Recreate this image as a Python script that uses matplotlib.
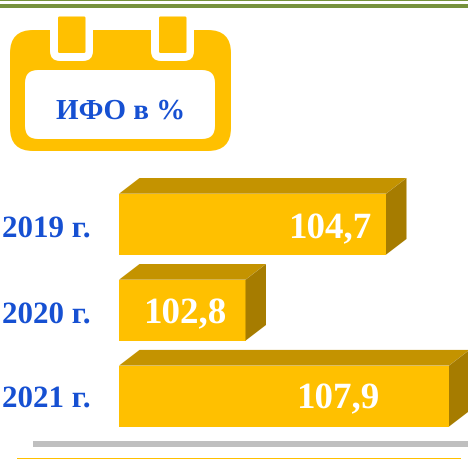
import matplotlib
matplotlib.use("Agg")
import matplotlib.pyplot as plt
from matplotlib.patches import FancyBboxPatch, Polygon, Rectangle

plt.rcParams["text.hinting"] = "no_hinting"
plt.rcParams["text.hinting_factor"] = 1

# Data
years = ["2019 г.", "2020 г.", "2021 г."]
values = ["104,7", "102,8", "107,9"]
# The reference's bars are not proportional to the values: drawn lengths, in pixels
bar_lengths = [267, 126.5, 330]
title = "ИФО в %"

# Layout (pixel coordinates of the 468x459 canvas)
W, H = 468, 459
BAR_LEFT = 119
BAR_H = 61
bar_centers = [224.2, 310.2, 396.1]
value_x = [330, 185, 338]
baselines = [238, 323.5, 408]
DX, DY = 20.5, 15.7

GOLD = "#FFC000"
TOP = "#C49300"
SIDE = "#A67C00"
BLUE = "#1650D2"
GREEN = "#76923C"
SERIF = "Liberation Serif"

fig = plt.figure(figsize=(W / 100, H / 100), dpi=100, facecolor="white")
ax = fig.add_axes([0, 0, 1, 1])
ax.set_xlim(0, W)
ax.set_ylim(H, 0)
ax.axis("off")


def rrect(x0, y0, x1, y1, r, color, z):
    ax.add_patch(FancyBboxPatch((x0 + r, y0 + r), x1 - x0 - 2 * r, y1 - y0 - 2 * r,
                                boxstyle=f"round,pad={r},rounding_size={r}",
                                fc=color, ec="none", zorder=z))


# Rules at top and bottom
ax.add_patch(Rectangle((0, 0), W, 1.1, fc=GREEN, ec="none"))
ax.add_patch(Rectangle((0, 4), W, 4, fc=GREEN, ec="none"))
ax.add_patch(Rectangle((33, 441), W - 33, 6.2, fc="#BFBFBF", ec="none"))
ax.add_patch(Rectangle((17, 457.6), 444, 1.4, fc=GOLD, ec="none"))

# Calendar icon
rrect(10, 30, 231, 151, 23, GOLD, 2)
for nx in (50, 151):
    rrect(nx, 12, nx + 43, 61, 10, "white", 3)
    rrect(nx + 8, 16.5, nx + 35.5, 53, 1.5, GOLD, 4)
rrect(25, 70, 215, 139, 13, "white", 3)
ax.text(120.5, 118.5, title, ha="center", va="baseline", fontsize=21,
        fontweight="bold", family=SERIF, color=BLUE, zorder=5)

# 3D-look bars
ax.barh(bar_centers, bar_lengths, height=BAR_H, left=BAR_LEFT, color=GOLD,
        edgecolor="none", zorder=3)
for c, length, year, val, vx, base in zip(bar_centers, bar_lengths, years, values,
                                          value_x, baselines):
    top, bot = c - BAR_H / 2, c + BAR_H / 2
    right = BAR_LEFT + length
    ax.add_patch(Polygon([(BAR_LEFT, top), (BAR_LEFT + DX, top - DY),
                          (right + DX, top - DY), (right, top)],
                         closed=True, fc=TOP, ec="none", zorder=3))
    ax.add_patch(Polygon([(right, top), (right + DX, top - DY),
                          (right + DX, bot - DY), (right, bot)],
                         closed=True, fc=SIDE, ec="none", zorder=3))
    ax.text(vx, base, val, ha="center", va="baseline", fontsize=26.5,
            fontweight="bold", family=SERIF, color="white", zorder=5)
    ax.text(2, base, year, ha="left", va="baseline", fontsize=22.5,
            fontweight="bold", family=SERIF, color=BLUE, zorder=5)

fig.savefig("out.png", dpi=100, facecolor="white")
